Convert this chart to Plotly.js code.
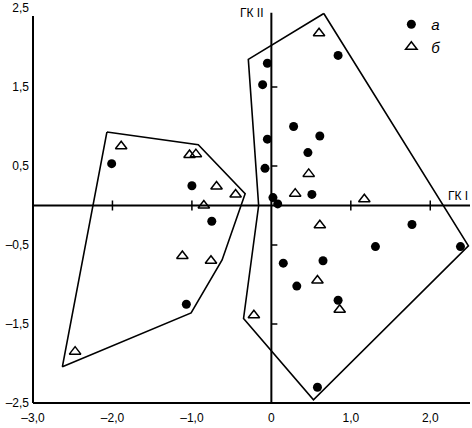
<!DOCTYPE html>
<html>
<head>
<meta charset="utf-8">
<script src="https://cdn.plot.ly/plotly-3.0.1.min.js"></script>
<style>html,body{margin:0;padding:0;background:#fff;}#chart{width:472px;height:428px;}</style>
</head>
<body>
<div id="chart"></div>
<script>
// Group "а" (filled circles): ГК I, ГК II scores
const aX = [-2.01, -1.00, -0.75, -1.07, -0.05, -0.11, 0.84, 0.28, 0.61, -0.05, 0.46, -0.08, 0.51, 0.02, 0.08, 1.77, 1.31, 2.38, 0.15, 0.65, 0.32, 0.84, 0.58];
const aY = [0.53, 0.25, -0.20, -1.25, 1.80, 1.53, 1.90, 1.00, 0.88, 0.84, 0.67, 0.47, 0.14, 0.10, 0.02, -0.24, -0.52, -0.52, -0.73, -0.70, -1.02, -1.20, -2.30];
// Group "б" (open triangles)
const bX = [-1.89, -1.03, -0.95, -0.69, -0.45, -0.85, -1.12, -0.76, -2.47, 0.60, 0.47, 0.30, 1.17, 0.61, 0.58, 0.86, -0.22];
const bY = [0.75, 0.64, 0.65, 0.24, 0.14, 0.00, -0.64, -0.70, -1.85, 2.18, 0.40, 0.15, 0.08, -0.25, -0.95, -1.32, -1.39];
// Outline polygons
const hullLeftX = [-2.07, -0.92, -0.33, -0.62, -1.01, -2.63, -2.07];
const hullLeftY = [0.93, 0.77, 0.15, -0.69, -1.36, -2.04, 0.93];
const hullRightX = [0.66, -0.29, -0.16, -0.35, 0.53, 2.48, 0.66];
const hullRightY = [2.43, 1.85, 0.00, -1.43, -2.46, -0.51, 2.43];
// Tick labels
const xTickVals = [-3, -2, -1, 0, 1, 2];
const xTickText = ['\u20133,0', '\u20132,0', '\u20131,0', '0', '1,0', '2,0'];
const yTickVals = [-2.5, -1.5, -0.5, 0.5, 1.5, 2.5];
const yTickText = ['\u20132,5', '\u20131,5', '\u20130,5', '0,5', '1,5', '2,5'];
const innerXTicks = [-2, -1, 1, 2];
const innerYTicks = [-1.5, -0.5, 0.5, 1.5];

const FONT = 'Liberation Sans, Arial, sans-serif';

const traces = [
  {x: hullLeftX, y: hullLeftY, mode: 'lines', line: {color: 'black', width: 1.6}, showlegend: false, hoverinfo: 'skip'},
  {x: hullRightX, y: hullRightY, mode: 'lines', line: {color: 'black', width: 1.6}, showlegend: false, hoverinfo: 'skip'},
  {x: aX, y: aY, mode: 'markers', name: 'а', marker: {symbol: 'circle', size: 9, color: 'black'}},
  {x: bX, y: bY, mode: 'markers', name: 'б', marker: {symbol: 'triangle-up-open', size: 10, color: 'black', line: {width: 1.5, color: 'black'}}}
];

const shapes = [];
// outer left axis and bottom axis
shapes.push({type: 'line', xref: 'paper', yref: 'paper', x0: 0, x1: 0, y0: 0, y1: 0.98, line: {color: 'black', width: 2}});
shapes.push({type: 'line', xref: 'paper', yref: 'paper', x0: 0, x1: 1, y0: 0, y1: 0, line: {color: 'black', width: 2}});
// central axes
shapes.push({type: 'line', xref: 'x', yref: 'y', x0: -3, x1: 2.5, y0: 0, y1: 0, line: {color: 'black', width: 2}});
shapes.push({type: 'line', xref: 'x', yref: 'y', x0: 0, x1: 0, y0: -2.5, y1: 2.44, line: {color: 'black', width: 2}});
innerXTicks.forEach(v => shapes.push({type: 'line', xref: 'x', yref: 'y', ysizemode: 'pixel', yanchor: 0, x0: v, x1: v, y0: -5, y1: 5, line: {color: 'black', width: 1.5}}));
innerYTicks.forEach(v => shapes.push({type: 'line', xref: 'x', yref: 'y', xsizemode: 'pixel', xanchor: 0, x0: 0, x1: 6, y0: v, y1: v, line: {color: 'black', width: 1.5}}));

const layout = {
  width: 472, height: 428,
  margin: {l: 33, r: 2, t: 8, b: 25, pad: 0},
  paper_bgcolor: 'white', plot_bgcolor: 'white',
  font: {family: FONT, size: 12, color: 'black'},
  xaxis: {range: [-3, 2.5], showgrid: false, zeroline: false, showline: false, ticks: '',
          tickvals: xTickVals, ticktext: xTickText, ticklabelstandoff: 6,
          tickfont: {family: FONT, size: 12, color: 'black'}, fixedrange: true},
  yaxis: {range: [-2.5, 2.5], showgrid: false, zeroline: false, showline: false, ticks: '',
          tickvals: yTickVals, ticktext: yTickText, ticklabelstandoff: 3,
          tickfont: {family: FONT, size: 12, color: 'black'}, fixedrange: true},
  showlegend: true,
  legend: {x: 0.82, y: 1, xanchor: 'left', yanchor: 'top', bgcolor: 'rgba(0,0,0,0)',
           font: {family: FONT, size: 15, style: 'italic', color: 'black'}},
  shapes: shapes,
  annotations: [
    {xref: 'x', yref: 'paper', x: 0, y: 0.987, xanchor: 'right', yanchor: 'middle', xshift: -5,
     text: 'ГК II', showarrow: false, font: {family: FONT, size: 12, color: 'black'}},
    {xref: 'x', yref: 'y', x: 2.5, y: 0, xanchor: 'right', yanchor: 'bottom', yshift: 1,
     text: 'ГК I', showarrow: false, font: {family: FONT, size: 12, color: 'black'}}
  ]
};

Plotly.newPlot('chart', traces, layout, {displayModeBar: false, staticPlot: true});
</script>
</body>
</html>
